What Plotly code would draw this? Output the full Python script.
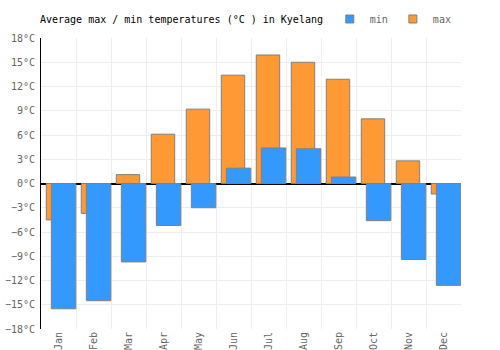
import plotly.graph_objects as go

months = ["Jan", "Feb", "Mar", "Apr", "May", "Jun", "Jul", "Aug", "Sep", "Oct", "Nov", "Dec"]
max_temps = [-4.5, -3.7, 1.1, 6.1, 9.2, 13.4, 15.9, 15.0, 12.9, 8.0, 2.8, -1.3]
min_temps = [-15.5, -14.5, -9.7, -5.2, -3.0, 1.9, 4.4, 4.3, 0.8, -4.6, -9.4, -12.6]

ORANGE = "#FF9933"
BLUE = "#3399FF"
EDGE = "#808080"
FONT = "DejaVu Sans Mono"

fig = go.Figure()
fig.add_trace(go.Bar(x=months, y=max_temps, name="max", marker=dict(color=ORANGE, line=dict(color=EDGE, width=1)),
                     width=0.67, offset=-0.35, showlegend=False))
fig.add_trace(go.Bar(x=months, y=min_temps, name="min", marker=dict(color=BLUE, line=dict(color=EDGE, width=1)),
                     width=0.70, offset=-0.205, showlegend=False))
# legend proxies
fig.add_trace(go.Scatter(x=[None], y=[None], mode="markers", name="min",
                         marker=dict(symbol="square", size=8, color=BLUE, line=dict(color=EDGE, width=1))))
fig.add_trace(go.Scatter(x=[None], y=[None], mode="markers", name="max",
                         marker=dict(symbol="square", size=8, color=ORANGE, line=dict(color=EDGE, width=1))))

fig.update_layout(
    width=500, height=350,
    margin=dict(l=41, r=39, t=38, b=21, autoexpand=False),
    paper_bgcolor="white", plot_bgcolor="white",
    barmode="overlay",
    font=dict(family=FONT, size=10, color="#666666"),
    title=dict(text="Average max / min temperatures (°C ) in Kyelang", x=40/500, xanchor="left",
               y=1 - 19/350, yanchor="middle", font=dict(family=FONT, size=10, color="black")),
    legend=dict(orientation="h", x=0.99, xanchor="right", y=1 - 19/350, yref="container", yanchor="middle",
                font=dict(family=FONT, size=10, color="#666666"), itemwidth=30, bgcolor="rgba(0,0,0,0)"),
    xaxis=dict(type="category", tickson="boundaries", showgrid=True, gridcolor="#eeeeee", gridwidth=1,
               tickangle=-90, ticks="", showline=False, zeroline=False, range=[-0.5, 11.5], automargin=False,
               tickfont=dict(family=FONT, size=10, color="#666666")),
    yaxis=dict(range=[-18, 18], dtick=3, tick0=0, ticksuffix="°C", showgrid=True, gridcolor="#eeeeee", gridwidth=1,
               zeroline=True, zerolinecolor="black", zerolinewidth=1.5, showline=True, linecolor="black",
               linewidth=1, ticks="", automargin=False, ticklabelstandoff=3,
               tickfont=dict(family=FONT, size=10, color="#666666")),
)

fig.write_html("out.html")
